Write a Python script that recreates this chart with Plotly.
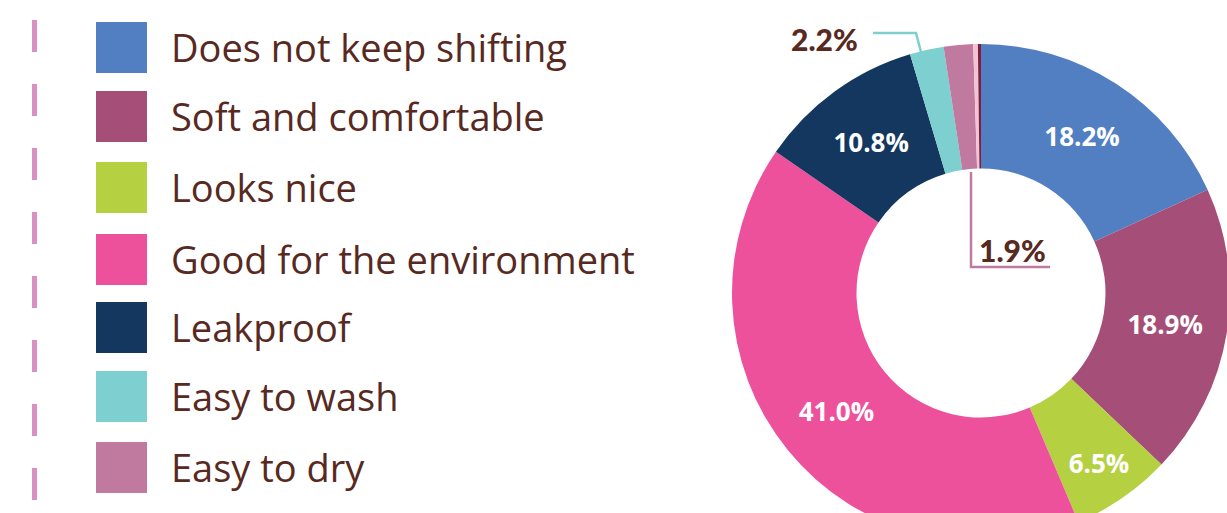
import plotly.graph_objects as go

# ---- data ----
categories = [
    "Does not keep shifting",
    "Soft and comfortable",
    "Looks nice",
    "Good for the environment",
    "Leakproof",
    "Easy to wash",
    "Easy to dry",
    "Other",
    "No answer",
]
shares = [18.2, 18.9, 6.5, 41.0, 10.8, 2.2, 1.9, 0.3, 0.2]
colors = ["#517fc2", "#a54f78", "#b5d040", "#ee519c", "#13375f",
          "#7ecfcf", "#c07aa0", "#f3c3d2", "#7d1f40"]
legend_items = categories[:7]
inside_labels = [True, True, True, True, True, False, False, False, False]

W, H = 1240, 560
TEXT = "#57291f"


def fx(px):
    return px / W


def fy(py):
    return 1 - py / H


cx, cy, r = 981, 293, 249

fig = go.Figure()
fig.add_trace(go.Pie(
    labels=categories,
    values=shares,
    sort=False,
    direction="clockwise",
    rotation=0,
    hole=0.5,
    marker=dict(colors=colors, line=dict(width=0)),
    text=[f"{v:.1f}%" if show else "" for v, show in zip(shares, inside_labels)],
    textinfo="text",
    textposition="inside",
    insidetextorientation="horizontal",
    insidetextfont=dict(family="Open Sans", size=26, color="white", weight="bold"),
    domain=dict(x=[fx(cx - r), fx(cx + r)], y=[fy(cy + r), fy(cy - r)]),
    showlegend=False,
    hoverinfo="label+percent",
))

shapes = []
annotations = []

# dashed guide on the far left
shapes.append(dict(type="line", xref="paper", yref="paper",
                   x0=fx(34.5), x1=fx(34.5), y0=fy(20), y1=fy(500),
                   line=dict(color="#d990c4", width=5, dash="32px,32px")))

# legend swatches and labels
row_top = [22, 91, 162, 234, 302, 371, 442]
for name, col, top in zip(legend_items, colors, row_top):
    shapes.append(dict(type="rect", xref="paper", yref="paper",
                       x0=fx(96), x1=fx(147), y0=fy(top + 51), y1=fy(top),
                       fillcolor=col, line=dict(width=0)))
    annotations.append(dict(xref="paper", yref="paper", x=fx(169), y=fy(top + 25),
                            xanchor="left", yanchor="middle", showarrow=False,
                            text=name,
                            font=dict(family="Open Sans", size=38, color=TEXT)))

# callout for "Easy to wash"
teal = colors[5]
shapes.append(dict(type="path", xref="paper", yref="paper",
                   path=f"M {fx(873)},{fy(33)} L {fx(916)},{fy(33)} L {fx(921)},{fy(52)}",
                   line=dict(color=teal, width=2.5)))
annotations.append(dict(xref="paper", yref="paper", x=fx(860), y=fy(39),
                        xanchor="right", yanchor="middle", showarrow=False,
                        text=f"{shares[5]:.1f}%",
                        font=dict(family="Lato", size=30, color=TEXT, weight=900)))

# callout for "Easy to dry"
mauve = colors[6]
shapes.append(dict(type="path", xref="paper", yref="paper",
                   path=f"M {fx(971)},{fy(172)} L {fx(971)},{fy(267)} L {fx(1050)},{fy(267)}",
                   line=dict(color=mauve, width=2.5)))
annotations.append(dict(xref="paper", yref="paper", x=fx(977), y=fy(250),
                        xanchor="left", yanchor="middle", showarrow=False,
                        text=f"{shares[6]:.1f}%",
                        font=dict(family="Lato", size=30, color=TEXT, weight=900)))

fig.update_layout(
    width=W, height=H,
    margin=dict(l=0, r=0, t=0, b=0),
    paper_bgcolor="white",
    plot_bgcolor="white",
    shapes=shapes,
    annotations=annotations,
)

fig.write_html(
    "out.html",
    post_script="document.documentElement.style.overflow='hidden';document.body.style.overflow='hidden';",
)
